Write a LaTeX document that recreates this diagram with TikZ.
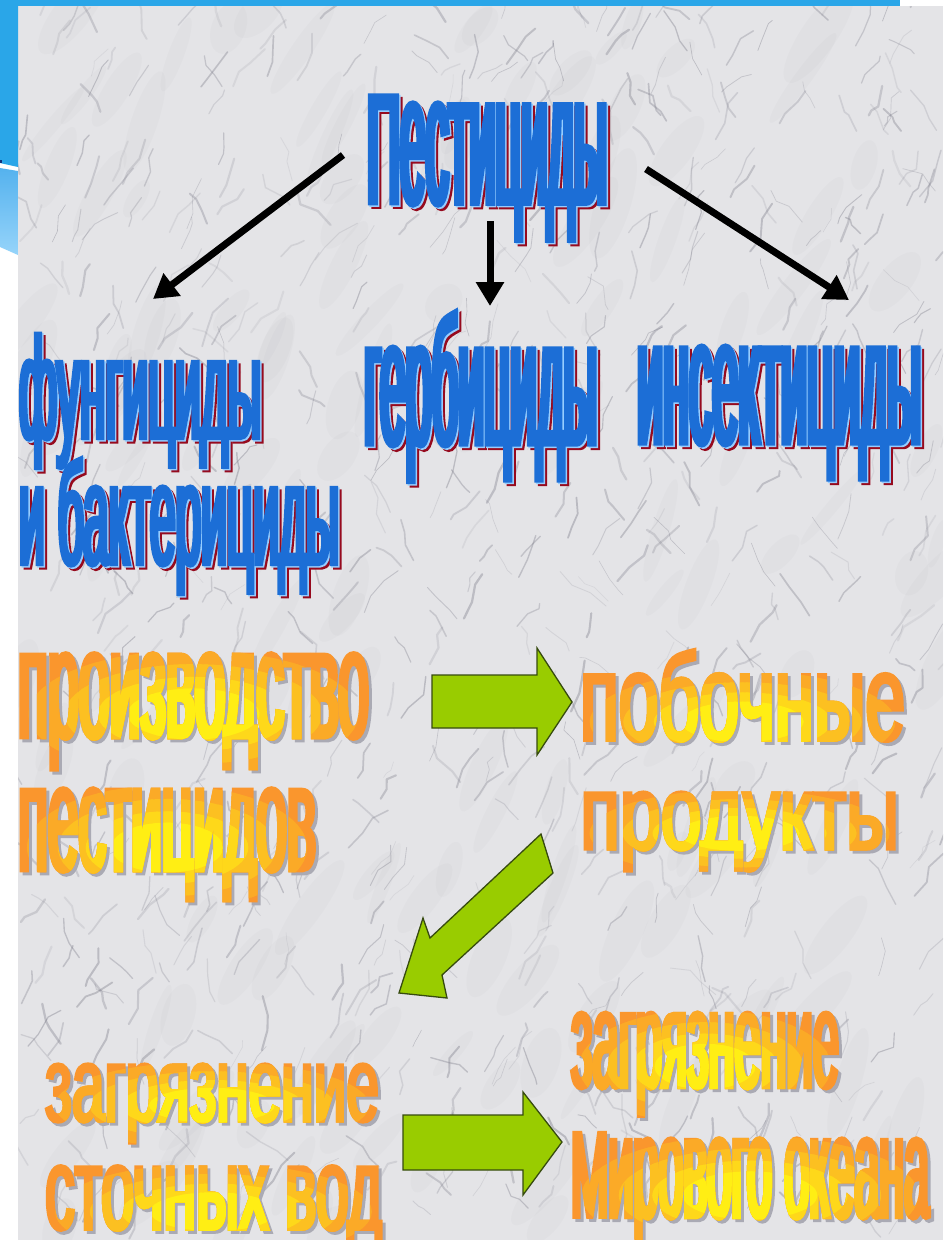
\documentclass[tikz,border=0pt]{standalone}
\usepackage{fontspec}
\usepackage{graphicx}
\usetikzlibrary{arrows.meta}
\newfontfamily\heavy{Liberation Sans}[FakeBold=3]

\definecolor{marblebase}{RGB}{228,228,231}
\definecolor{veingray}{RGB}{125,125,138}
\definecolor{leafgreen}{RGB}{153,204,0}
\definecolor{leafedge}{RGB}{55,75,15}
\definecolor{barblue}{RGB}{42,166,232}
\definecolor{midblue}{RGB}{85,178,238}
\definecolor{paleblue}{RGB}{150,212,250}
\definecolor{navy}{RGB}{20,50,120}

% condensed display lettering: width and x-height fixed in px,
% glyph colour (hex) carried by the font so fill and outline agree
\newsavebox\fitbox
\newcommand\fittext[4]{%
  \begingroup\heavy
  \sbox\fitbox{н}\edef\fitxh{\the\ht\fitbox}%
  \sbox\fitbox{#4}\edef\fitwd{\the\wd\fitbox}%
  \pgfmathsetmacro\fitS{#2/\fitxh}%
  \pgfmathsetmacro\fitR{#1/(\fitS*\fitwd)}%
  \edef\fitdo{\noexpand\addfontfeatures{FakeStretch=\fitR,Color=#3}}\fitdo
  \sbox\fitbox{#4}\edef\fitwd{\the\wd\fitbox}%
  \pgfmathsetmacro\fitX{#1/\fitwd}%
  \scalebox{\fitX}[\fitS]{\usebox\fitbox}%
  \endgroup}
\newcommand\lowcap[1]{\scalebox{1}[0.84]{#1}}

% blue heading word with light rim and dark red drop shadow
\newcommand\blueword[6]{% name, x, baseline, width, x-height, text
  \node[wordnode] at (#2+3.5,#3+3.5) {\fittext{#4}{#5}{960A1E}{#6}};
  \node[wordnode] at (#2+1.5,#3+1.5) {\fittext{#4}{#5}{96CDFF}{#6}};
  \node[wordnode] (#1) at (#2,#3) {\fittext{#4}{#5}{1C6ED6}{#6}};
}
% orange word with a yellow glow low in its middle and a grey shadow
\newcommand\glowword[6]{% name, x, baseline, width, x-height, text
  \pgfmathsetmacro\gwCX{#2+#4/2}%
  \pgfmathsetmacro\gwCY{#3-0.28*#5}%
  \pgfmathsetmacro\gwA{0.47*#4}%
  \pgfmathsetmacro\gwB{0.78*#5}%
  \node[wordnode] at (#2+3,#3+3) {\fittext{#4}{#5}{AAAAB4}{#6}};
  \node[wordnode] (#1) at (#2,#3) {\fittext{#4}{#5}{FA962D}{#6}};
  \foreach \f/\hex in {1.0/FBAA27, 0.78/FCC021, 0.58/FED81A, 0.4/FFEE14}{
    \begin{scope}
      \clip (\gwCX,\gwCY) ellipse ({\f*\gwA} and {\f*\gwB});
      \node[wordnode] at (#2,#3) {\fittext{#4}{#5}{\hex}{#6}};
    \end{scope}
  }
}

\begin{document}
\begin{tikzpicture}[x=1pt,y=-1pt,
  wordnode/.style={anchor=base west, inner sep=0pt, outer sep=0pt},
  blackarrow/.style={line width=7pt, -{Triangle[length=24pt,width=27pt]}},
  blockarrow/.style={fill=leafgreen, draw=leafedge, line width=1.3pt, line join=miter},
  vein/.style={draw=veingray, line cap=round, line join=round}]

\useasboundingbox (0,0) rectangle (943,1240);
\fill[white] (0,0) rectangle (943,1240);

% marble slab with faint mottling and fine grey veining
\begin{scope}
  \clip (18,6) rectangle (943,1240);
  \fill[marblebase] (18,6) rectangle (943,1240);
  \pgfmathsetseed{2718}
  \foreach \i in {1,...,160}{
    \pgfmathsetmacro\vx{18+925*rnd}
    \pgfmathsetmacro\vy{6+1234*rnd}
    \pgfmathsetmacro\ra{20+40*rnd}
    \pgfmathsetmacro\rb{6+12*rnd}
    \pgfmathsetmacro\rot{60+30*(rnd-0.5)}
    \fill[veingray, opacity=0.035, rotate around={\rot:(\vx,\vy)}] (\vx,\vy) ellipse (\ra pt and \rb pt);
  }
  \foreach \i in {1,...,750}{
    \pgfmathsetmacro\vx{18+925*rnd}
    \pgfmathsetmacro\vy{6+1234*rnd}
    \pgfmathsetmacro\va{rnd<0.65 ? -60+30*(rnd-0.5) : -120+40*(rnd-0.5)}
    \pgfmathsetmacro\vb{\va+70*(rnd-0.5)}
    \pgfmathsetmacro\vc{\va+70*(rnd-0.5)}
    \pgfmathsetmacro\la{5+16*rnd}
    \pgfmathsetmacro\lb{5+16*rnd}
    \pgfmathsetmacro\lc{5+16*rnd}
    \pgfmathsetmacro\lw{0.5+1.8*rnd}
    \pgfmathsetmacro\op{0.12+0.28*rnd}
    \draw[vein, line width=\lw pt, opacity=\op] (\vx,\vy) -- ++(\va:\la) -- ++(\vb:\lb) -- ++(\vc:\lc);
  }
\end{scope}

% blue frame strip and swoosh at the left
\fill[barblue] (0,0) rectangle (900,6);
\fill[barblue] (0,0) -- (18,0) -- (18,167) -- (0,163) -- cycle;
\fill[navy] (0,160) rectangle (2,163);
\shade[top color=midblue, bottom color=paleblue] (0,168) -- (18,171) -- (18,255) -- (0,247) -- cycle;
\draw[white, line width=1.5pt] (0,166) -- (18,169);

% classes of pesticides
\blueword{pest}{367}{203}{240}{98}{\lowcap{П}естициды}
\blueword{fung}{19}{438}{242}{76}{фунгициды}
\blueword{gerb}{364}{444}{233}{95}{гербициды}
\blueword{insect}{637}{443}{284}{95}{инсектициды}
\blueword{bact}{19}{564}{320}{76}{и бактерициды}

\coordinate (aL0) at (343,155); \coordinate (aL1) at (153,299);
\coordinate (aM0) at (490,221); \coordinate (aM1) at (490,306);
\coordinate (aR0) at (646,169); \coordinate (aR1) at (849,300);
\draw[blackarrow] (aL0) -- (aL1);
\draw[blackarrow] (aM0) -- (aM1);
\draw[blackarrow] (aR0) -- (aR1);

% chain of pollution
\glowword{prod}{18}{737}{351}{82}{производство}
\glowword{pestov}{18}{870}{298}{80}{пестицидов}
\glowword{byprod}{580}{740}{325}{65}{побочные}
\glowword{products}{580}{849}{319}{56}{продукты}
\glowword{sewage}{45}{1121}{334}{56}{загрязнение}
\glowword{waters}{45}{1229}{337}{62}{сточных вод}
\glowword{pollution}{571}{1087}{268}{73}{загрязнение}
\glowword{ocean}{571}{1217}{358}{77}{\lowcap{М}ирового океана}

\filldraw[blockarrow] (432,675) -- (537,675) -- (537,648) -- (572,702) -- (537,755) -- (537,728) -- (432,728) -- cycle;
\filldraw[blockarrow] (541,834) -- (553,873) -- (442,975) -- (447,998) -- (399,993) -- (423,918) -- (430,938) -- cycle;
\filldraw[blockarrow] (403,1115) -- (523,1115) -- (523,1092) -- (562,1142) -- (523,1195) -- (523,1170) -- (403,1170) -- cycle;

\end{tikzpicture}
\end{document}
